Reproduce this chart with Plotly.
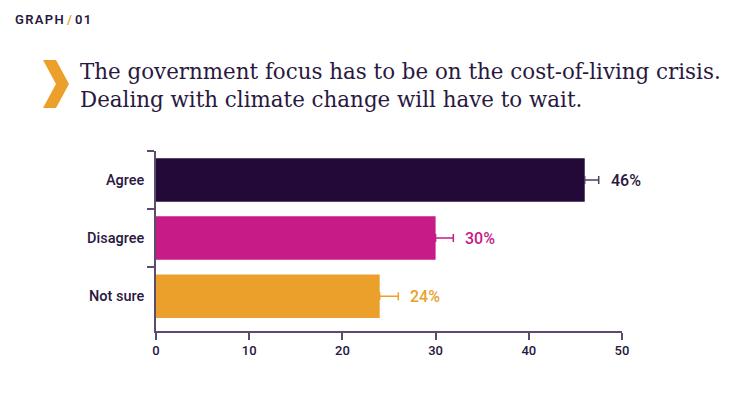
import plotly.graph_objects as go

categories = ["Agree", "Disagree", "Not sure"]
values = [46, 30, 24]
errors = [1.5, 1.9, 2.0]
value_labels = ["46%", "30%", "24%"]
colors = ["#230937", "#c71b88", "#eba02b"]
err_colors = ["#4e3d63", "#c71b88", "#eba02b"]
label_colors = ["#2a1840", "#c71b88", "#eba02b"]
x_ticks = [0, 10, 20, 30, 40, 50]

OFF = 8  # page body margin
W, H = 750 - 2 * OFF, 393 - 2 * OFF
L, T = 156 - OFF, 151 - OFF
R = W - (622 - OFF)
B = H - (331 - OFF)
PW, PH = W - L - R, H - T - B

def px(x):
    return (x - OFF - L) / PW

def py(y):
    return (H - B - (y - OFF)) / PH

DARK = "#2a1840"
AXIS = "#5b4b6e"
MED = "Roboto Medium, Roboto"

fig = go.Figure()
for c, v, e, col, ecol in zip(categories, values, errors, colors, err_colors):
    fig.add_trace(go.Bar(
        y=[c], x=[v], orientation="h",
        marker=dict(color=col, line=dict(width=0)),
        error_x=dict(type="data", symmetric=False, array=[e],
                     arrayminus=[0], color=ecol, thickness=1.5, width=4),
        width=0.75,
        hoverinfo="skip",
    ))

annotations = []
for c, v, e, lab, col in zip(categories, values, errors, value_labels, label_colors):
    annotations.append(dict(
        x=v + e, y=c, xref="x", yref="y", text=lab, showarrow=False,
        xanchor="left", yanchor="middle", xshift=10,
        font=dict(family=MED, size=16, color=col),
    ))

# header
annotations.append(dict(
    x=px(13), y=py(19), xref="paper", yref="paper", showarrow=False,
    xanchor="left", yanchor="middle",
    text="G\u200aR\u200aA\u200aP\u200aH <span style='color:#eba02b'>/</span> 0\u200a1",
    font=dict(family="Roboto", size=13, color=DARK, weight=600),
))
# title lines
annotations.append(dict(
    x=px(78), y=py(71), xref="paper", yref="paper", showarrow=False,
    xanchor="left", yanchor="middle",
    text="The government focus has to be on the cost-of-living crisis.",
    font=dict(family="DejaVu Serif", size=21.4, color=DARK),
))
annotations.append(dict(
    x=px(78), y=py(100), xref="paper", yref="paper", showarrow=False,
    xanchor="left", yanchor="middle",
    text="Dealing with climate change will have to wait.",
    font=dict(family="DejaVu Serif", size=21.4, color=DARK),
))

chev = [(43, 60), (56, 60), (69, 84), (56, 108), (43, 108), (56, 84)]
path = "M " + " L ".join(f"{px(a):.5f},{py(b):.5f}" for a, b in chev) + " Z"

fig.update_layout(
    width=W, height=H,
    margin=dict(l=L, r=R, t=T, b=B),
    paper_bgcolor="white", plot_bgcolor="white",
    showlegend=False,
    annotations=annotations,
    shapes=[dict(type="path", path=path, xref="paper", yref="paper",
                 fillcolor="#eba02b", line=dict(width=0))],
    xaxis=dict(range=[0, 50], tickvals=x_ticks, showgrid=False, zeroline=False,
               showline=True, linecolor=AXIS, linewidth=1.5,
               ticks="outside", ticklen=7, tickcolor=AXIS, tickwidth=1.5,
               tickfont=dict(family=MED, size=13, color=DARK)),
    yaxis=dict(categoryorder="array", categoryarray=categories,
               range=[2.6, -0.5], showgrid=False, zeroline=False,
               showline=True, linecolor=AXIS, linewidth=1.5,
               ticks="outside", ticklen=7, tickcolor=AXIS, tickwidth=1.5,
               tickson="boundaries", ticklabelstandoff=7,
               tickfont=dict(family=MED, size=14.5, color=DARK)),
)

fig.write_html("out.html")
